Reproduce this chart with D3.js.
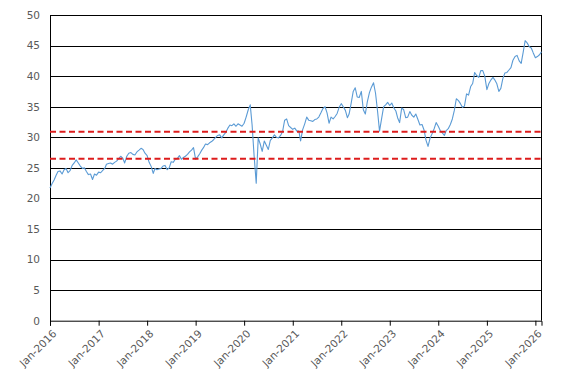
<!DOCTYPE html>
<html>
<head>
<meta charset="utf-8">
<script src="https://cdn.jsdelivr.net/npm/d3@7"></script>
<style>
  body { margin: 0; background: #fff; }
  svg { display: block; }
  .tick text { fill: #595959; font-size: 10.5px; font-family: "DejaVu Sans", Verdana, sans-serif; }
</style>
</head>
<body>
<svg id="chart" width="569" height="384"></svg>
<script>
// semi-monthly readings (1st and 16th of each month), one array per year
const v2016 = [21.7, 22.4, 23.0, 23.8, 24.4, 24.5, 24.0, 24.7, 24.9, 24.2, 24.6, 25.4,
               25.8, 26.3, 25.8, 25.3, 24.9, 25.0, 24.4, 23.9, 24.0, 23.1, 24.0, 23.8];
const v2017 = [24.3, 24.2, 24.6, 24.9, 25.6, 25.7, 25.8, 25.6, 25.9, 26.1, 26.5, 26.9,
               26.6, 25.8, 26.9, 27.4, 27.5, 27.2, 27.1, 27.6, 27.9, 28.2, 28.0, 27.4];
const v2018 = [27.0, 25.9, 25.2, 24.1, 24.9, 24.7, 24.8, 24.9, 25.3, 25.4, 24.7, 25.0,
               26.0, 25.9, 26.4, 26.5, 27.0, 26.4, 26.7, 26.9, 27.2, 27.6, 27.9, 28.3];
const v2019 = [26.4, 26.8, 27.3, 27.9, 28.3, 28.9, 28.8, 29.1, 29.3, 29.6, 30.0, 30.3,
               30.4, 29.9, 30.4, 30.8, 31.5, 32.0, 31.9, 32.2, 31.8, 32.2, 32.0, 31.8];
const v2020 = [32.3, 33.3, 34.5, 35.3, 32.0, 27.0, 22.5, 29.9, 28.9, 27.7, 29.4, 28.7,
               28.0, 29.5, 29.9, 30.4, 30.0, 29.9, 30.3, 30.9, 32.8, 33.0, 31.9, 31.6];
const v2021 = [31.3, 31.5, 31.0, 31.0, 29.4, 31.2, 32.2, 33.3, 32.8, 32.7, 32.6, 32.9,
               33.0, 33.3, 34.0, 34.7, 35.0, 34.0, 32.3, 33.3, 33.0, 33.4, 33.9, 34.9];
const v2022 = [35.5, 35.0, 34.4, 33.2, 33.8, 35.5, 37.5, 38.1, 36.6, 36.5, 37.5, 34.5,
               33.8, 35.8, 37.3, 38.2, 38.9, 37.2, 34.3, 31.0, 33.1, 35.0, 35.3, 35.7];
const v2023 = [35.2, 35.6, 34.8, 34.3, 33.2, 32.4, 34.8, 34.5, 33.2, 33.3, 34.2, 33.6,
               33.3, 33.8, 32.9, 32.0, 32.1, 31.2, 29.5, 28.5, 29.9, 30.6, 31.4, 32.4];
const v2024 = [31.8, 31.1, 30.7, 30.3, 31.1, 31.4, 32.1, 33.0, 34.4, 36.3, 36.0, 35.5,
               34.9, 35.1, 37.1, 36.9, 38.3, 38.8, 40.6, 40.1, 39.8, 40.9, 40.9, 40.0];
const v2025 = [37.8, 38.8, 39.4, 39.8, 39.4, 38.8, 37.5, 38.0, 39.6, 40.5, 40.6, 41.0,
               41.4, 42.6, 43.2, 43.4, 42.5, 42.1, 43.9, 45.8, 45.4, 44.8, 44.6, 43.8];
const v2026 = [43.0, 43.2, 43.5, 44.0];

const years = [2016, 2017, 2018, 2019, 2020, 2021, 2022, 2023, 2024, 2025, 2026];
const yearValues = [v2016, v2017, v2018, v2019, v2020, v2021, v2022, v2023, v2024, v2025, v2026];

const refLines = [30.9, 26.5];
const yTicks = [0, 5, 10, 15, 20, 25, 30, 35, 40, 45, 50];
const xTickYears = [2016, 2017, 2018, 2019, 2020, 2021, 2022, 2023, 2024, 2025, 2026];

// build {date, value} rows from the yearly arrays
const rows = [];
years.forEach((yr, k) => {
  yearValues[k].forEach((v, i) => {
    rows.push({ date: new Date(yr, Math.floor(i / 2), i % 2 ? 16 : 1), value: v });
  });
});

const svg = d3.select("#chart");
const W = 569, H = 384;
const margin = { top: 15, right: 27.5, bottom: 63.3, left: 50 };
const innerW = W - margin.left - margin.right;
const innerH = H - margin.top - margin.bottom;
const g = svg.append("g").attr("transform", `translate(${margin.left},${margin.top})`);

const x = d3.scaleTime()
  .domain([new Date(2016, 0, 1), rows[rows.length - 1].date])
  .range([0, innerW]);
const y = d3.scaleLinear().domain([0, 50]).range([innerH, 0]);

// horizontal gridlines
g.append("g")
  .selectAll("line")
  .data(yTicks.filter(d => d > 0))
  .join("line")
  .attr("x1", 0).attr("x2", innerW)
  .attr("y1", d => Math.round(y(d)) + 0.5).attr("y2", d => Math.round(y(d)) + 0.5)
  .attr("stroke", "#000").attr("stroke-width", 1);

// right border
g.append("line")
  .attr("x1", innerW).attr("x2", innerW)
  .attr("y1", y(0)).attr("y2", y(50))
  .attr("stroke", "#000");

// y axis
const yAxis = g.append("g")
  .call(d3.axisLeft(y).tickValues(yTicks).tickSize(0).tickPadding(10));
yAxis.select(".domain").attr("stroke", "#000");

// x axis
const xAxis = g.append("g")
  .attr("transform", `translate(0,${innerH})`)
  .call(d3.axisBottom(x)
    .tickValues(xTickYears.map(yr => new Date(yr, 0, 1)))
    .tickSize(5)
    .tickFormat(d3.timeFormat("%b-%Y")));
xAxis.select(".domain").attr("stroke", "#000");
xAxis.selectAll(".tick line").attr("stroke", "#000");
xAxis.selectAll(".tick text")
  .attr("text-anchor", "end")
  .attr("x", 0).attr("y", 0).attr("dy", "0.35em")
  .attr("transform", "translate(4,11) rotate(-45)");

// series line
const line = d3.line()
  .x(d => x(d.date))
  .y(d => y(d.value));

g.append("path")
  .datum(rows)
  .attr("fill", "none")
  .attr("stroke", "#5b9bd5")
  .attr("stroke-width", 1.1)
  .attr("stroke-linejoin", "round")
  .attr("d", line);

// reference lines
g.append("g")
  .selectAll("line")
  .data(refLines)
  .join("line")
  .attr("x1", 0).attr("x2", innerW)
  .attr("y1", d => y(d)).attr("y2", d => y(d))
  .attr("stroke", "#dd1c1c")
  .attr("stroke-width", 2)
  .attr("stroke-dasharray", "6,3.5");
</script>
</body>
</html>
